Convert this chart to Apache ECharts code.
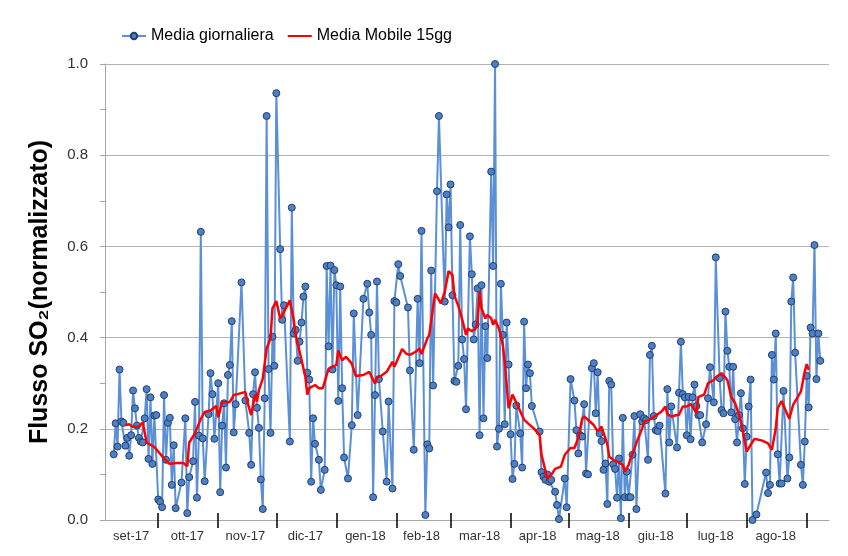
<!DOCTYPE html>
<html>
<head>
<meta charset="utf-8">
<script src="https://cdn.jsdelivr.net/npm/echarts@6/dist/echarts.min.js"></script>
<style>
  html, body { margin: 0; padding: 0; background: #fff; }
  #chart { width: 848px; height: 556px; }
</style>
</head>
<body>
<div id="chart"></div>
<script>
// etichette dei mesi sull'asse x
const monthLabels = ["set-17", "ott-17", "nov-17", "dic-17", "gen-18", "feb-18", "mar-18",
  "apr-18", "mag-18", "giu-18", "lug-18", "ago-18", "set-18"]
const startDate = "2017-09-04"

// Media giornaliera, un array per mese (null = giorno senza dato)
const set17 = [null, null, null, null, 0.144, 0.212, 0.161, 0.330, 0.216, 0.213, 0.163, 0.180, 0.141, 0.186,
  0.284, 0.245, 0.207, 0.180, 0.172, 0.170, 0.223, 0.287, 0.134, 0.269, 0.123, 0.229, 0.230]
const ott17 = [0.045, 0.040, 0.028, 0.274, 0.132, 0.213, 0.224, 0.077, 0.164, 0.026, null, null, 0.082, null,
  0.223, 0.015, 0.094, null, 0.129, 0.259, 0.049, 0.185, 0.632, 0.179, 0.085, null, 0.232, 0.322, 0.276, 0.178, null]
const nov17 = [0.300, 0.061, 0.207, 0.256, 0.115, 0.318, 0.340, 0.436, 0.192, 0.254, null, null, 0.521, null,
  0.262, null, 0.191, 0.121, 0.276, 0.324, 0.246, 0.202, 0.089, 0.024, 0.267, 0.886, 0.331, 0.191, 0.402, 0.338]
const dic17 = [0.936, null, 0.594, 0.439, 0.471, null, null, 0.172, 0.685, 0.409, 0.417, 0.349, 0.391, 0.433,
  0.490, 0.512, 0.323, 0.308, 0.084, 0.223, 0.167, null, 0.132, 0.066, null, 0.110, 0.557, 0.381, 0.558, 0.330, 0.548]
const gen18 = [0.515, 0.261, 0.512, 0.289, 0.137, null, 0.091, null, 0.208, 0.453, null, 0.230, null, null,
  0.485, null, 0.518, 0.455, 0.406, 0.050, 0.274, 0.523, 0.309, null, 0.194, null, 0.084, 0.260, null, 0.069, 0.480]
const feb18 = [0.477, 0.561, 0.535, null, null, null, 0.466, 0.328, null, 0.154, null, 0.485, 0.344, 0.634,
  null, 0.011, 0.166, 0.157, 0.547, 0.295, null, 0.721, 0.886, null, null, 0.479, 0.714, 0.642]
const mar18 = [0.736, 0.493, 0.305, 0.303, 0.338, 0.647, 0.396, 0.353, 0.243, null, 0.622, 0.539, 0.396, 0.429,
  0.508, 0.186, 0.515, 0.223, 0.425, 0.355, null, 0.764, 0.557, 1.000, 0.161, 0.200, 0.518, 0.406, 0.210, 0.433, 0.341]
const apr18 = [0.188, 0.090, 0.123, 0.251, null, 0.190, 0.115, 0.435, 0.289, 0.341, 0.322, 0.250, null, null,
  null, 0.194, 0.105, 0.095, 0.088, 0.100, 0.084, 0.088, null, 0.062, 0.033, 0.002, null, null, 0.091, 0.028]
const mag18 = [null, 0.309, null, 0.262, 0.197, 0.146, 0.186, 0.183, 0.254, 0.102, 0.100, null, 0.333, 0.344,
  0.234, 0.324, 0.190, 0.173, 0.110, 0.124, 0.035, 0.305, 0.297, 0.122, 0.112, 0.049, 0.135, 0.004, 0.224, 0.050, 0.106]
const giu18 = [0.050, 0.050, 0.143, 0.228, 0.024, null, 0.232, 0.216, 0.223, 0.219, 0.132, 0.362, 0.382, 0.228,
  0.197, 0.195, 0.207, null, null, 0.058, 0.287, 0.170, 0.249, null, null, 0.159, 0.279, 0.391, 0.276, 0.269]
const lug18 = [0.186, 0.270, 0.177, 0.269, 0.297, 0.250, 0.230, 0.230, 0.170, null, 0.210, 0.267, 0.335, null,
  0.258, 0.576, null, 0.311, 0.241, 0.234, 0.457, 0.371, 0.336, 0.236, 0.336, 0.221, 0.170, 0.230, 0.278, 0.201, 0.079]
const ago18 = [0.183, 0.249, 0.308, 0.000, null, 0.012, null, null, null, null, 0.104, 0.059, 0.077, 0.362,
  0.308, 0.409, 0.144, 0.080, 0.080, 0.283, null, 0.091, 0.137, 0.479, 0.532, 0.367, null, null, 0.121, 0.077, 0.172]
const set18 = [0.316, 0.247, 0.422, 0.409, 0.603, 0.309, 0.409, 0.349, null, null, null, null]

// Media Mobile 15gg (null dove non letta)
const mm_set17 = [null, null, null, null, null, null, null, null, null, null, 0.208, null, 0.210, null, 0.204,
  0.208, null, 0.205, null, 0.214, null, 0.170, 0.168, null, null, 0.160, null]
const mm_ott17 = [null, null, 0.140, null, 0.130, null, 0.123, null, null, 0.125, null, null, null, 0.125, null,
  0.118, 0.170, null, null, 0.190, null, null, 0.222, null, 0.237, null, null, 0.240, 0.240, null, 0.250]
const mm_nov17 = [0.225, null, 0.258, 0.262, null, null, 0.259, null, 0.274, null, 0.276, null, null, null, 0.281,
  0.260, null, 0.230, null, 0.275, 0.260, 0.285, null, 0.310, null, 0.376, null, 0.398, 0.464, null]
const mm_dic17 = [0.480, null, 0.442, null, 0.457, null, null, 0.482, null, 0.438, 0.405, null, 0.370, 0.366, null,
  0.314, 0.275, 0.289, null, null, 0.296, null, 0.289, null, 0.289, null, null, 0.332, null, 0.336, null]
const mm_gen18 = [0.340, 0.372, null, 0.350, null, 0.358, null, null, 0.343, null, 0.316, null, null, null, 0.318,
  null, null, 0.325, null, null, 0.299, 0.312, null, 0.316, null, null, 0.325, null, null, 0.347, 0.336]
const mm_feb18 = [null, null, null, 0.375, null, 0.365, null, 0.362, null, null, 0.369, null, 0.376, 0.364, null,
  null, 0.398, 0.406, null, null, 0.497, null, null, 0.475, null, 0.500, null, 0.546]
const mm_mar18 = [null, 0.537, 0.492, null, 0.470, null, 0.440, null, 0.406, 0.420, null, 0.414, null, 0.420, 0.435,
  0.502, 0.464, null, 0.442, 0.450, null, 0.442, 0.428, 0.439, null, 0.420, null, 0.384, 0.347, null, 0.245]
const mm_apr18 = [null, 0.275, null, 0.257, 0.257, null, null, 0.220, null, 0.212, null, null, 0.201, null, null,
  0.186, 0.143, null, null, 0.091, null, 0.099, null, 0.112, null, null, 0.117, null, 0.143, null]
const mm_mag18 = [null, 0.158, null, 0.158, null, 0.180, null, 0.222, 0.227, null, null, 0.216, null, 0.208, null,
  0.194, null, 0.205, null, 0.179, 0.165, 0.139, null, 0.132, null, 0.128, 0.132, null, 0.121, 0.106, null]
const mm_giu18 = [0.121, 0.135, null, 0.157, null, 0.180, null, 0.201, 0.216, null, 0.219, null, 0.223, 0.227, null,
  0.232, null, 0.238, null, 0.249, 0.232, null, 0.227, null, 0.229, null, 0.231, null, 0.249, null]
const mm_lug18 = [0.249, null, 0.254, 0.249, null, 0.234, 0.270, null, null, 0.275, null, 0.300, null, null, 0.307,
  0.313, null, null, 0.322, 0.318, null, 0.307, null, 0.270, null, 0.256, null, 0.231, 0.216, null, 0.172]
const mm_ago18 = [0.150, null, 0.165, null, 0.178, null, null, null, 0.174, null, null, 0.168, null, 0.154, null,
  0.201, 0.245, null, 0.261, null, 0.241, null, 0.222, null, 0.253, null, 0.267, null, 0.282, null, 0.326]
const mm_set18 = [0.342, 0.329, null, null, null, null, null, null, null, null, null, null]

const dailyMonths = [set17, ott17, nov17, dic17, gen18, feb18, mar18, apr18, mag18, giu18, lug18, ago18, set18]
const mobileMonths = [mm_set17, mm_ott17, mm_nov17, mm_dic17, mm_gen18, mm_feb18, mm_mar18, mm_apr18,
  mm_mag18, mm_giu18, mm_lug18, mm_ago18, mm_set18]

const daily = [].concat(...dailyMonths)
const mobile = [].concat(...mobileMonths)

// un giorno per categoria
const days = []
const start = new Date(startDate + "T00:00:00Z")
for (let i = 0; i < daily.length; i++) {
  const d = new Date(start.getTime() + i * 86400000)
  days.push(d.toISOString().slice(0, 10))
}

// etichetta del mese al centro dei suoi giorni, tacca al primo del mese
const labelAt = {}
let offset = 0
dailyMonths.forEach((m, i) => {
  if (m.length >= 20) {
    labelAt[offset + Math.floor((m.length - 1) / 2)] = monthLabels[i]
  }
  offset += m.length
})
const isMonthStart = (index, value) => value.slice(8, 10) === "01"

const chart = echarts.init(document.getElementById("chart"))

chart.setOption({
  animation: false,
  textStyle: { fontFamily: "Liberation Sans, Arial, sans-serif" },
  legend: {
    top: 23,
    left: 116,
    itemWidth: 24,
    itemHeight: 8,
    itemGap: 13,
    textStyle: { fontSize: 16, color: "#000" },
    data: [
      { name: "Media giornaliera" },
      { name: "Media Mobile 15gg", itemStyle: { opacity: 0 } }
    ]
  },
  grid: {
    left: 105,
    right: 19,
    top: 64,
    bottom: 36
  },
  xAxis: [
    {
      type: "category",
      data: days,
      boundaryGap: true,
      axisLine: { lineStyle: { color: "#a6a6a6", width: 1 } },
      axisTick: {
        show: true,
        alignWithLabel: true,
        interval: isMonthStart,
        length: 8,
        lineStyle: { color: "#000", width: 1.5 }
      },
      axisLabel: {
        interval: (index) => labelAt[index] !== undefined,
        formatter: (value, index) => labelAt[index] || "",
        color: "#333",
        fontSize: 13,
        margin: 10
      },
      splitLine: { show: false }
    },
    {
      type: "category",
      data: days,
      position: "bottom",
      boundaryGap: true,
      axisLine: { show: false },
      axisTick: {
        show: true,
        inside: true,
        alignWithLabel: true,
        interval: isMonthStart,
        length: 7,
        lineStyle: { color: "#000", width: 1.5 }
      },
      axisLabel: { show: false },
      splitLine: { show: false }
    }
  ],
  yAxis: {
    type: "value",
    min: 0,
    max: 1,
    interval: 0.2,
    name: "Flusso SO\u2082(normalizzato)",
    nameLocation: "middle",
    nameGap: 52,
    nameTextStyle: { fontSize: 25, fontWeight: "bold", color: "#000" },
    axisLine: { show: true, lineStyle: { color: "#a6a6a6" } },
    axisTick: { show: true, length: 5, lineStyle: { color: "#a6a6a6" } },
    minorTick: { show: true, splitNumber: 2, length: 5, lineStyle: { color: "#a6a6a6" } },
    axisLabel: {
      formatter: (v) => v.toFixed(1),
      fontSize: 15,
      color: "#333",
      margin: 17
    },
    splitLine: { lineStyle: { color: "#b3b3b3", width: 1 } }
  },
  series: [
    {
      name: "Media giornaliera",
      type: "line",
      data: daily,
      connectNulls: true,
      symbol: "circle",
      symbolSize: 7,
      showAllSymbol: true,
      lineStyle: { color: "#5b8fd6", width: 2 },
      itemStyle: { color: "#4f7fc4", borderColor: "#1f3f6e", borderWidth: 1 },
      z: 2
    },
    {
      name: "Media Mobile 15gg",
      type: "line",
      data: mobile,
      connectNulls: true,
      symbol: "none",
      lineStyle: { color: "#ff0000", width: 2.5 },
      itemStyle: { color: "#ff0000" },
      z: 3
    }
  ]
})
</script>
</body>
</html>
